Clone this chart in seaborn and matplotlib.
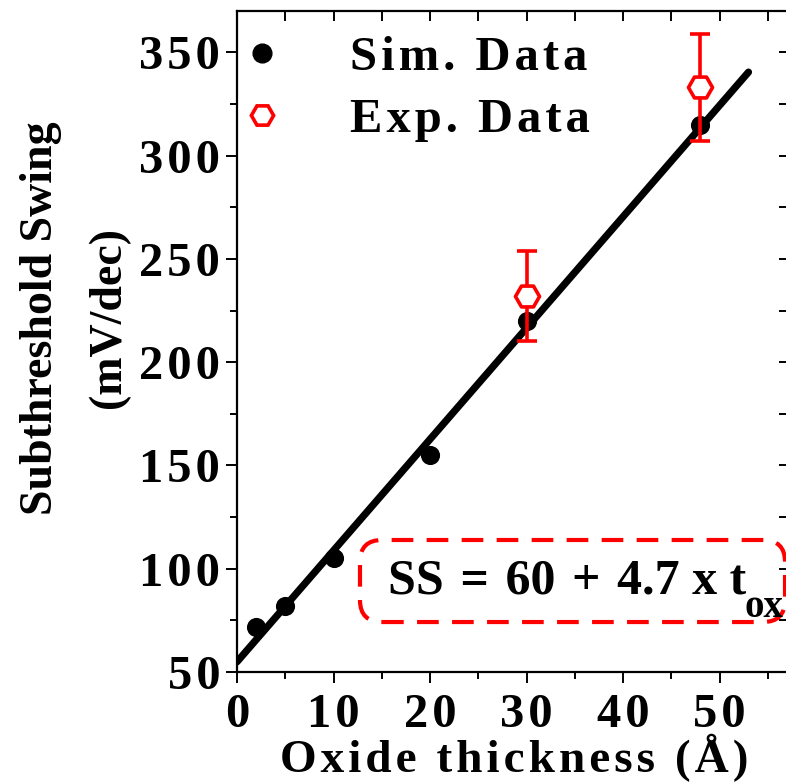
import numpy as np
import pandas as pd
import matplotlib
matplotlib.use("Agg")
import matplotlib.pyplot as plt
from matplotlib.ticker import MultipleLocator, FuncFormatter
from matplotlib.lines import Line2D
from matplotlib.patches import FancyBboxPatch
import seaborn as sns

# Simulated subthreshold swing vs oxide thickness
sim_tox = [2, 5, 10, 20, 30, 48]
sim_ss = [72, 82, 105, 155, 220, 315]

# Experimental points with symmetric error bars
exp_tox = [30, 48]
exp_ss = [232, 333]
exp_err = [22, 26]

fit_range = [0, 53]

sns.set_theme(style="white")
plt.rcParams["font.family"] = ["Liberation Serif", "DejaVu Sans"]
plt.rcParams["font.weight"] = "bold"
plt.rcParams["text.color"] = "black"
plt.rcParams["axes.labelcolor"] = "black"
plt.rcParams["xtick.color"] = "black"
plt.rcParams["ytick.color"] = "black"

HAIR = "\u200a"


def spaced(s, sep=HAIR):
    return sep.join(s)


fig = plt.figure(figsize=(7.86, 7.84), dpi=100)
ax = fig.add_axes([237 / 786, 1 - 672 / 784, (789 - 237) / 786, (672 - 11) / 784])

# linear fit through the simulated points
slope, intercept = np.polyfit(sim_tox, sim_ss, 1)
fit_df = pd.DataFrame({"tox": fit_range,
                       "ss": [intercept + slope * x for x in fit_range]})
sns.lineplot(data=fit_df, x="tox", y="ss", color="black", lw=5.2, ax=ax,
             zorder=2, solid_capstyle="round")

sim_df = pd.DataFrame({"tox": sim_tox, "ss": sim_ss})
sns.scatterplot(data=sim_df, x="tox", y="ss", color="black", s=190,
                marker="o", edgecolor="black", linewidth=0, ax=ax, zorder=3)

ax.errorbar(exp_tox, exp_ss, yerr=exp_err, fmt="none", ecolor="red",
            elinewidth=2.6, capsize=7, capthick=2.6, zorder=4)
exp_df = pd.DataFrame({"tox": exp_tox, "ss": exp_ss})
sns.scatterplot(data=exp_df, x="tox", y="ss", marker="H", s=300,
                facecolor="white", edgecolor="red", linewidth=2.6,
                ax=ax, zorder=5)

ax.set_xlim(0, 57.2)
ax.set_ylim(50, 370)

for side in ["left", "bottom", "top", "right"]:
    ax.spines[side].set_visible(True)
    ax.spines[side].set_color("black")
    ax.spines[side].set_linewidth(1.6)

ax.xaxis.set_major_locator(MultipleLocator(10))
ax.xaxis.set_minor_locator(MultipleLocator(5))
ax.yaxis.set_major_locator(MultipleLocator(50))
ax.yaxis.set_minor_locator(MultipleLocator(25))

fmt = FuncFormatter(lambda v, p: spaced(str(int(round(v)))))
ax.xaxis.set_major_formatter(fmt)
ax.yaxis.set_major_formatter(fmt)

ax.tick_params(axis="both", which="major", direction="out", length=8,
               width=1.4, labelsize=35, colors="black", pad=4)
ax.tick_params(axis="x", which="major", pad=7)
ax.tick_params(axis="both", which="minor", direction="out", length=5,
               width=1.4, colors="black")
ax.tick_params(axis="x", which="both", bottom=True, top=False)
ax.tick_params(axis="y", which="both", left=True, right=False)

# mirrored inward ticks on top and right
top = ax.secondary_xaxis("top")
top.xaxis.set_major_locator(MultipleLocator(5))
top.tick_params(direction="in", length=7, width=1.4, labeltop=False,
                colors="black")
top.spines["top"].set_visible(False)
right = ax.secondary_yaxis("right")
right.yaxis.set_major_locator(MultipleLocator(25))
right.tick_params(direction="in", length=7, width=1.4, labelright=False,
                  colors="black")
right.spines["right"].set_visible(False)

for lbl in ax.get_xticklabels() + ax.get_yticklabels():
    lbl.set_fontweight("bold")

ax.set_xlabel(spaced("Oxide thickness (Å)"), fontsize=34, fontweight="bold")
ax.xaxis.label.set_va("baseline")
ax.xaxis.set_label_coords(0.503, -0.1515)

ax.set_ylabel("Subthreshold Swing\n(mV/dec)", fontsize=33,
              fontweight="bold", linespacing=1.8)
ax.yaxis.label.set(ha="center", va="center", multialignment="center")
ax.yaxis.set_label_coords(-0.2935, 0.5356)

handles = [
    Line2D([], [], ls="none", marker="o", color="black", markersize=13.5),
    Line2D([], [], ls="none", marker="H", markerfacecolor="white",
           markeredgecolor="red", markeredgewidth=2.6, markersize=16),
]
labels = [spaced("Sim. Data"), spaced("Exp. Data")]
ax.legend(handles, labels, loc="upper left", frameon=False,
          bbox_to_anchor=(0.0236, 0.962), handlelength=0.5,
          handletextpad=1.55, labelspacing=0.36, borderpad=0,
          borderaxespad=0,
          prop={"family": ["Liberation Serif", "DejaVu Sans"],
                "weight": "bold", "size": 35})

# dashed rounded frame around the fitted relation
frame = FancyBboxPatch((0.2228, 0.0756), 0.9928 - 0.2228, 0.1997 - 0.0756,
                       boxstyle="round,pad=0,rounding_size=0.04",
                       mutation_aspect=0.83, transform=ax.transAxes,
                       fc="none", ec="red", lw=3.0, ls=(0, (5.2, 3.2)),
                       clip_on=False, zorder=6)
ax.add_patch(frame)
relation = ("SS" + HAIR + " = " + HAIR + "60" + HAIR + " + " + HAIR
            + "4.7 x t")
ax.text(0.2736, 0.1195, relation, transform=ax.transAxes,
        fontsize=36, fontweight="bold", ha="left", va="baseline", zorder=7)
ax.text(0.9195, 0.0832, "ox", transform=ax.transAxes, fontsize=28,
        fontweight="bold", ha="left", va="baseline", zorder=7, clip_on=False)

fig.savefig("out.png", dpi=100)
